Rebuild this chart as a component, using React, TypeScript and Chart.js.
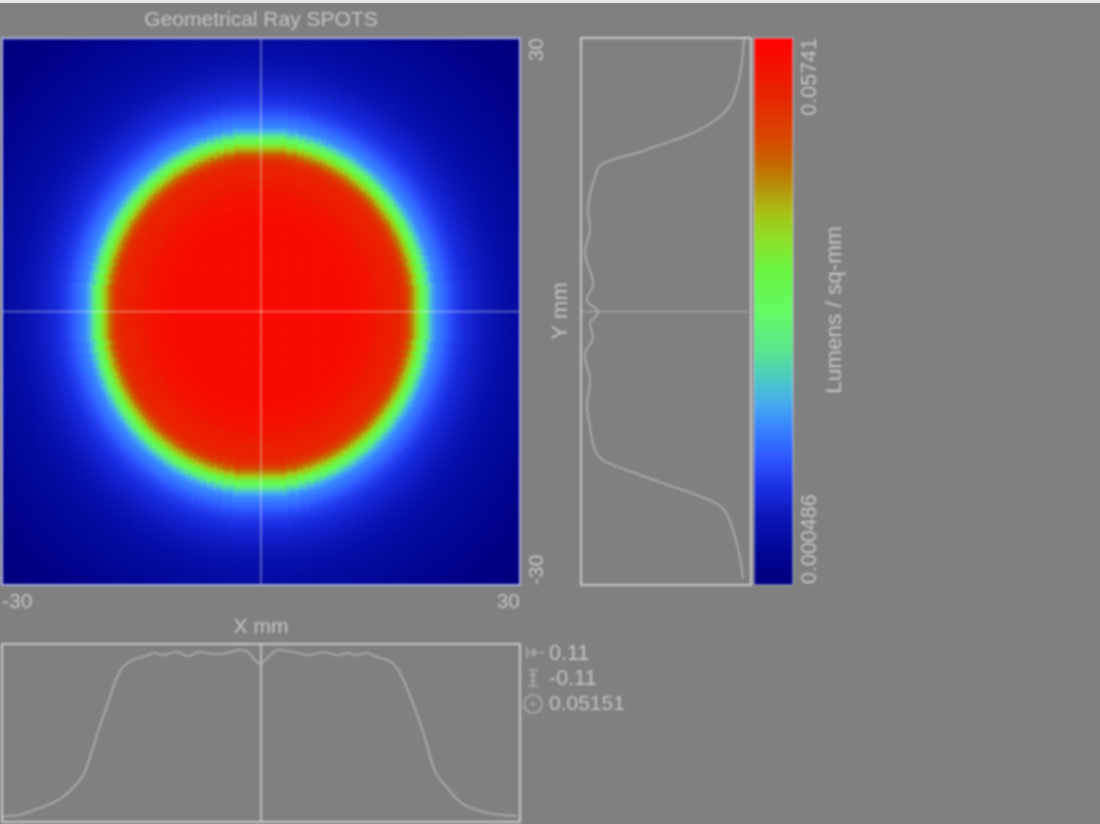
import React, { useEffect, useRef } from "react";
import { Chart, registerables } from "chart.js";

Chart.register(...registerables);

// ---- data ----
const titleText = "Geometrical Ray SPOTS";
const axisRangeMm = [-30, 30];
const xAxisTitle = "X mm";
const yAxisTitle = "Y mm";
const colorbarTitle = "Lumens / sq-mm";
const colorbarMin = 0.000486;
const colorbarMax = 0.05741;
const colorbarMinLabel = "0.000486";
const colorbarMaxLabel = "0.05741";
const statLabels = ["0.11", "-0.11", "0.05151"];

// colour map (position 0..1 on the colour bar)
const mapStops = [0, 0.055, 0.12, 0.175, 0.23, 0.285, 0.33, 0.375, 0.43, 0.5, 0.575, 0.63, 0.685, 0.73, 0.78, 0.81, 0.887, 1];
const mapR = [0, 0, 10, 25, 45, 55, 70, 75, 90, 100, 105, 140, 170, 185, 200, 215, 230, 255];
const mapG = [0, 5, 20, 45, 85, 130, 170, 200, 230, 250, 245, 225, 190, 140, 95, 75, 40, 0];
const mapB = [125, 145, 180, 225, 255, 255, 240, 200, 140, 100, 65, 40, 20, 10, 0, 0, 0, 0];

// irradiance map: level on the colour bar against the distance from the centre
const radiusMm = [
  0, 10, 11, 12, 13, 14, 15, 16,
  16.25, 16.5, 16.75, 17, 17.25, 17.5, 17.75, 18,
  18.25, 18.5, 18.75, 19, 19.25, 19.5, 19.75, 20,
  20.25, 20.5, 20.75, 21, 21.25, 21.5, 21.75, 22,
  22.25, 22.5, 22.75, 23, 23.25, 23.5, 23.75, 24,
  24.25, 24.5, 24.75, 25, 25.25, 25.5, 25.75, 26,
  26.25, 26.5, 26.75, 27, 27.25, 27.5, 27.75, 28,
  28.25, 28.5, 28.75, 29, 29.25, 29.5, 29.75, 30,
  30.5, 31, 31.5, 32, 32.5, 33, 33.5, 34,
  34.5, 35, 35.5, 36, 36.5, 37, 37.5, 38,
  38.5, 39, 39.5, 40, 41, 42, 43,
];
const radiusLevel = [
  0.97, 0.97, 0.96, 0.95, 0.94, 0.925, 0.91, 0.9,
  0.89, 0.88, 0.865, 0.84, 0.8, 0.765, 0.73, 0.69,
  0.65, 0.605, 0.56, 0.52, 0.465, 0.42, 0.375, 0.335,
  0.31, 0.29, 0.28, 0.27, 0.26, 0.25, 0.237, 0.225,
  0.215, 0.205, 0.197, 0.19, 0.182, 0.175, 0.17, 0.165,
  0.16, 0.155, 0.15, 0.145, 0.141, 0.137, 0.133, 0.13,
  0.126, 0.122, 0.118, 0.115, 0.111, 0.107, 0.103, 0.1,
  0.097, 0.095, 0.092, 0.09, 0.087, 0.085, 0.082, 0.08,
  0.077, 0.075, 0.072, 0.07, 0.065, 0.06, 0.055, 0.05,
  0.046, 0.042, 0.038, 0.035, 0.031, 0.027, 0.023, 0.02,
  0.017, 0.015, 0.012, 0.01, 0.006, 0.003, 0,
];

// X slice
const xProfileMm = [-29.9, -27.9, -25.6, -23.3, -21.8, -20.6, -19.8, -18.9, -17.8, -16.9, -16.1, -14.9, -13.7, -12.3, -11.4, -9.7, -8.5, -7.1, -5.6, -3.9, -2.7, -1.5, -0.7, 0, 0.7, 1.9, 3, 3.7, 5.7, 7.2, 8.8, 10, 11.1, 12.3, 13.4, 14.9, 15.9, 16.9, 18.1, 19, 20.2, 21.6, 23.1, 25, 26.9, 29.7];
const xProfileLevel = [0.03, 0.042, 0.079, 0.129, 0.191, 0.264, 0.365, 0.506, 0.657, 0.787, 0.865, 0.91, 0.927, 0.949, 0.938, 0.955, 0.933, 0.955, 0.944, 0.949, 0.966, 0.955, 0.91, 0.888, 0.921, 0.966, 0.961, 0.955, 0.938, 0.955, 0.938, 0.949, 0.938, 0.949, 0.927, 0.904, 0.854, 0.753, 0.601, 0.472, 0.281, 0.191, 0.112, 0.067, 0.045, 0.034];

// Y slice
const yProfileMm = [29.9, 27.5, 24.6, 22.3, 20.6, 19.3, 18.4, 17.4, 16.8, 16, 14.7, 12.9, 11.1, 8.9, 6.4, 3.1, 1.2, 0, -1.3, -2.9, -4.6, -7.6, -10.1, -12.7, -15.2, -16.3, -17.8, -19.1, -20.4, -21.6, -24, -27, -29.3];
const yProfileLevel = [0.041, 0.053, 0.082, 0.135, 0.241, 0.376, 0.518, 0.671, 0.788, 0.888, 0.918, 0.947, 0.959, 0.947, 0.976, 0.929, 0.965, 0.9, 0.947, 0.929, 0.976, 0.947, 0.965, 0.947, 0.918, 0.871, 0.671, 0.476, 0.282, 0.165, 0.106, 0.065, 0.047];

// ---- styling ----
const W = 1100;
const H = 824;
const PAGE = "#808080";
const TEXT = "rgb(196,196,196)";
const FONT = "'Liberation Sans', Arial, sans-serif";
const LINE = "rgb(178,178,178)";
const FRAME = "rgb(200,200,200)";
const CELL_STEP = 0.25;

function mapColor(t: number): string {
  let i = 0;
  while (i < mapStops.length - 2 && t > mapStops[i + 1]) i++;
  const f = Math.max(0, Math.min(1, (t - mapStops[i]) / (mapStops[i + 1] - mapStops[i])));
  const c = (a: number[]) => Math.round(a[i] + (a[i + 1] - a[i]) * f);
  return `rgb(${c(mapR)},${c(mapG)},${c(mapB)})`;
}

function levelAt(d: number): number {
  let best = 0;
  for (let i = 1; i < radiusMm.length; i++) {
    if (Math.abs(radiusMm[i] - d) < Math.abs(radiusMm[best] - d)) best = i;
  }
  return radiusLevel[best];
}

type Item = { text: string; x: number; y: number; rot?: number; align?: CanvasTextAlign; size?: number };

const framePlugin = {
  id: "frame",
  afterDatasetsDraw(chart: any, _a: any, opts: any) {
    if (!opts || !opts.color) return;
    const { ctx, chartArea: c } = chart;
    ctx.save();
    ctx.strokeStyle = opts.color;
    ctx.lineWidth = opts.width || 2;
    ctx.strokeRect(c.left, c.top, c.right - c.left, c.bottom - c.top);
    ctx.restore();
  },
};

const labelPlugin = {
  id: "labels",
  afterDraw(chart: any, _a: any, opts: any) {
    const { ctx } = chart;
    for (const it of (opts && opts.items ? opts.items : []) as Item[]) {
      ctx.save();
      ctx.translate(it.x, it.y);
      ctx.rotate(it.rot || 0);
      ctx.fillStyle = TEXT;
      ctx.font = `${it.size || 21}px ${FONT}`;
      ctx.textAlign = it.align || "center";
      ctx.textBaseline = "middle";
      ctx.fillText(it.text, 0, 0);
      ctx.restore();
    }
  },
};

const iconPlugin = {
  id: "icons",
  afterDraw(chart: any, _a: any, opts: any) {
    if (!opts || !opts.show) return;
    const { ctx } = chart;
    ctx.save();
    ctx.strokeStyle = "rgb(175,175,175)";
    ctx.fillStyle = "rgb(175,175,175)";
    ctx.lineWidth = 1.5;
    const seg = (a: number, b: number, c: number, d: number) => {
      ctx.beginPath();
      ctx.moveTo(a, b);
      ctx.lineTo(c, d);
      ctx.stroke();
    };
    seg(527, 647, 527, 658);
    seg(527, 652.5, 533, 652.5);
    seg(539, 652.5, 544, 652.5);
    seg(533, 649, 533, 656);
    seg(533, 649, 537, 652.5);
    seg(533, 656, 537, 652.5);
    seg(533, 670, 533, 686);
    seg(528, 670, 538, 670);
    seg(528, 686, 538, 686);
    seg(530, 675, 536, 675);
    seg(530, 681, 536, 681);
    ctx.beginPath();
    ctx.arc(533, 704, 9, 0, Math.PI * 2);
    ctx.stroke();
    ctx.beginPath();
    ctx.arc(533, 704, 1.8, 0, Math.PI * 2);
    ctx.fill();
    ctx.restore();
  },
};

function hiddenAxis(min: number, max: number, reverse = false) {
  return { type: "linear", min, max, reverse, display: false, grid: { display: false } };
}

function padFor(left: number, top: number, right: number, bottom: number) {
  return { autoPadding: false, padding: { left, top, right: W - right, bottom: H - bottom } };
}

export default function App() {
  const a = useRef<HTMLCanvasElement>(null);
  const b = useRef<HTMLCanvasElement>(null);
  const c = useRef<HTMLCanvasElement>(null);
  const d = useRef<HTMLCanvasElement>(null);

  useEffect(() => {
    const [lo, hi] = axisRangeMm;

    // irradiance map
    const cells: { x: number; y: number }[] = [];
    const colours: string[] = [];
    for (let py = lo + CELL_STEP / 2; py < hi; py += CELL_STEP) {
      for (let px = lo + CELL_STEP / 2; px < hi; px += CELL_STEP) {
        cells.push({ x: px, y: py });
        colours.push(mapColor(levelAt(Math.hypot(px, py))));
      }
    }
    const cross = { borderColor: "rgba(255,255,255,0.36)", borderWidth: 1.8, showLine: true, pointRadius: 0 };
    const mapChart = new Chart(a.current as any, {
      type: "scatter",
      plugins: [framePlugin, labelPlugin],
      data: {
        datasets: [
          { ...cross, data: [{ x: lo, y: 0 }, { x: hi, y: 0 }] },
          { ...cross, data: [{ x: 0, y: lo }, { x: 0, y: hi }] },
          { data: cells, parsing: false, pointStyle: "rect", pointRadius: 2.5, borderWidth: 0, pointBorderWidth: 0, pointBackgroundColor: colours, showLine: false },
        ],
      },
      options: {
        animation: false,
        responsive: false,
        devicePixelRatio: 1,
        layout: { autoPadding: false, padding: { left: 2, top: 0, right: W - 520, bottom: H - 585 - 55 } },
        scales: {
          x: {
            type: "linear",
            min: lo,
            max: hi,
            grid: { display: false, drawTicks: false },
            border: { display: false },
            afterBuildTicks: (s: any) => {
              s.ticks = axisRangeMm.map((value) => ({ value }));
            },
            afterFit: (s: any) => {
              s.height = 55;
              s.paddingLeft = 0;
              s.paddingRight = 0;
            },
            ticks: { align: "inner", autoSkip: false, maxRotation: 0, padding: 5, color: TEXT, font: { family: FONT, size: 21 } },
            title: { display: true, text: xAxisTitle, color: TEXT, font: { family: FONT, size: 21 }, padding: 0 },
          },
          y: hiddenAxis(lo, hi),
        },
        plugins: {
          legend: { display: false },
          tooltip: { enabled: false },
          title: { display: true, text: titleText, fullSize: false, color: TEXT, font: { family: FONT, size: 21, weight: "normal" }, padding: { top: 8, bottom: 5 } },
          frame: { color: "rgb(170,170,225)", width: 2 },
          labels: {
            items: [
              { text: String(hi), x: 537, y: 38, rot: -Math.PI / 2, align: "right" },
              { text: String(lo), x: 537, y: 585, rot: -Math.PI / 2, align: "left" },
            ],
          },
        },
      } as any,
    });

    // X slice
    const xChart = new Chart(b.current as any, {
      type: "scatter",
      plugins: [framePlugin, labelPlugin, iconPlugin],
      data: {
        datasets: [
          { data: xProfileMm.map((x, i) => ({ x, y: xProfileLevel[i] })), showLine: true, tension: 0.4, pointRadius: 0, borderColor: LINE, borderWidth: 1.6 },
          { data: [{ x: 0, y: 0 }, { x: 0, y: 1 }], showLine: true, pointRadius: 0, borderColor: "rgb(190,190,190)", borderWidth: 2 },
        ],
      },
      options: {
        animation: false,
        responsive: false,
        devicePixelRatio: 1,
        layout: padFor(2, 644, 520, 822),
        scales: { x: hiddenAxis(lo, hi), y: hiddenAxis(0, 1) },
        plugins: {
          legend: { display: false },
          tooltip: { enabled: false },
          frame: { color: FRAME, width: 2 },
          icons: { show: true },
          labels: {
            items: [
              { text: statLabels[0], x: 549, y: 654, align: "left", size: 21.5 },
              { text: statLabels[1], x: 549, y: 679, align: "left", size: 21.5 },
              { text: statLabels[2], x: 549, y: 704, align: "left", size: 21 },
            ],
          },
        },
      } as any,
    });

    // Y slice
    const yChart = new Chart(c.current as any, {
      type: "scatter",
      plugins: [framePlugin, labelPlugin],
      data: {
        datasets: [
          { data: yProfileMm.map((y, i) => ({ x: yProfileLevel[i], y })), showLine: true, tension: 0.4, pointRadius: 0, borderColor: LINE, borderWidth: 1.6 },
          { data: [{ x: 0, y: 0 }, { x: 1, y: 0 }], showLine: true, pointRadius: 0, borderColor: "rgb(165,165,165)", borderWidth: 1.5 },
        ],
      },
      options: {
        animation: false,
        responsive: false,
        devicePixelRatio: 1,
        layout: padFor(581, 38, 751, 585),
        scales: { x: hiddenAxis(0, 1, true), y: hiddenAxis(lo, hi) },
        plugins: {
          legend: { display: false },
          tooltip: { enabled: false },
          frame: { color: FRAME, width: 2 },
          labels: { items: [{ text: yAxisTitle, x: 561, y: 311, rot: -Math.PI / 2, size: 22 }] },
        },
      } as any,
    });

    // colour bar
    const barChart = new Chart(d.current as any, {
      type: "bar",
      plugins: [framePlugin, labelPlugin],
      data: {
        labels: [colorbarTitle],
        datasets: [
          {
            data: [[colorbarMin, colorbarMax]],
            barPercentage: 1,
            categoryPercentage: 1,
            borderWidth: 0,
            backgroundColor: (ctx: any) => {
              const sc = ctx.chart.scales.y;
              if (!sc || !Number.isFinite(sc.bottom) || !Number.isFinite(sc.top)) return "#000";
              const g = ctx.chart.ctx.createLinearGradient(0, sc.bottom, 0, sc.top);
              mapStops.forEach((t, i) => g.addColorStop(t, `rgb(${mapR[i]},${mapG[i]},${mapB[i]})`));
              return g;
            },
          },
        ],
      },
      options: {
        animation: false,
        responsive: false,
        devicePixelRatio: 1,
        layout: padFor(754, 38, 793, 585),
        scales: {
          x: { display: false, grid: { display: false } },
          y: hiddenAxis(colorbarMin, colorbarMax),
        },
        plugins: {
          legend: { display: false },
          tooltip: { enabled: false },
          frame: { color: "rgba(205,205,225,0.55)", width: 1.5 },
          labels: {
            items: [
              { text: colorbarMaxLabel, x: 810, y: 38, rot: -Math.PI / 2, align: "right", size: 21.5 },
              { text: colorbarMinLabel, x: 810, y: 584, rot: -Math.PI / 2, align: "left", size: 21.5 },
              { text: colorbarTitle, x: 835, y: 310, rot: -Math.PI / 2, size: 22.5 },
            ],
          },
        },
      } as any,
    });

    return () => {
      mapChart.destroy();
      xChart.destroy();
      yChart.destroy();
      barChart.destroy();
    };
  }, []);

  const layer: React.CSSProperties = { position: "absolute", left: 0, top: 0, filter: "blur(0.9px)" };
  const mapLayer: React.CSSProperties = { ...layer, filter: "blur(1.3px)" };
  return (
    <div style={{ position: "fixed", left: 0, top: 0, width: W, height: H, background: PAGE, overflow: "hidden" }}>
      <div style={{ position: "absolute", left: 0, top: 0, width: W, height: 3, background: "#e8e8e8" }} />
      <canvas ref={a} width={W} height={H} style={mapLayer} />
      <canvas ref={b} width={W} height={H} style={layer} />
      <canvas ref={c} width={W} height={H} style={layer} />
      <canvas ref={d} width={W} height={H} style={layer} />
    </div>
  );
}
